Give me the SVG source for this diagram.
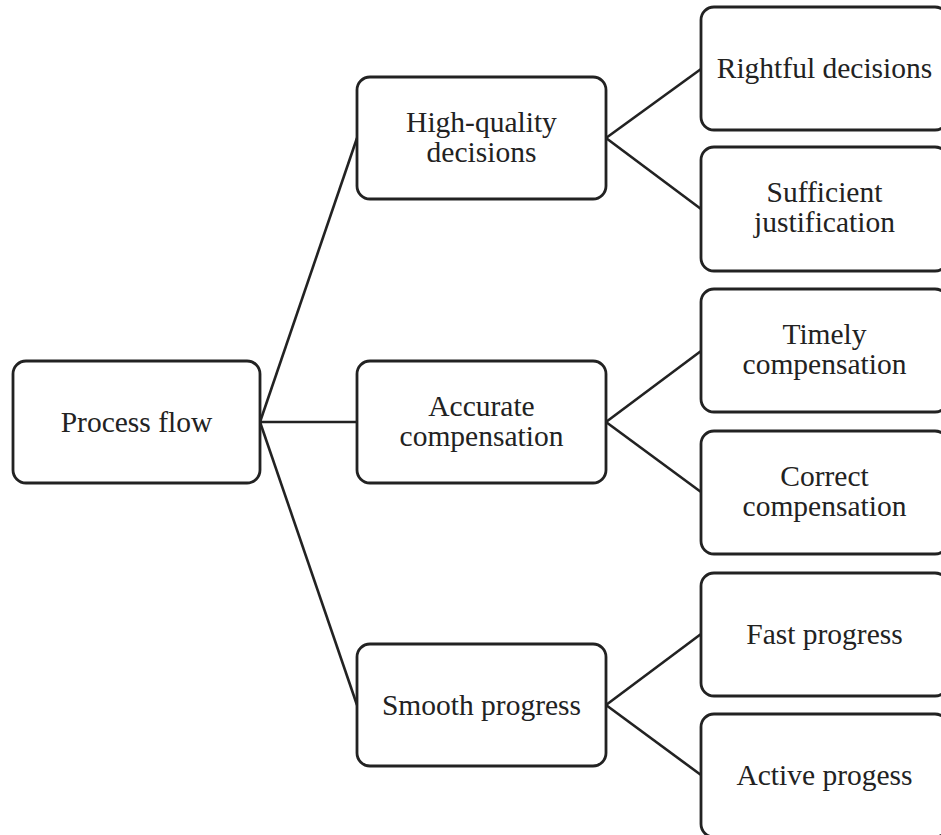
<svg xmlns="http://www.w3.org/2000/svg" width="941" height="835" viewBox="0 0 941 835">
  <style>
    .box { fill: #ffffff; stroke: #222222; stroke-width: 2.8; }
    .link { fill: none; stroke: #222222; stroke-width: 2.6; }
    text { font-family: "Liberation Serif", "Times New Roman", serif; font-size: 29.5px; fill: #222222; text-anchor: middle; }
  </style>
  <rect width="941" height="835" fill="#ffffff"/>

  <g id="connectors">
    <line class="link" x1="260" y1="422" x2="357" y2="138"/>
    <line class="link" x1="260" y1="422" x2="357" y2="422"/>
    <line class="link" x1="260" y1="422" x2="357" y2="705"/>
    <line class="link" x1="606" y1="138" x2="701" y2="69"/>
    <line class="link" x1="606" y1="138" x2="701" y2="209"/>
    <line class="link" x1="606" y1="422" x2="701" y2="351"/>
    <line class="link" x1="606" y1="422" x2="701" y2="492"/>
    <line class="link" x1="606" y1="705" x2="701" y2="634"/>
    <line class="link" x1="606" y1="705" x2="701" y2="775"/>
  </g>

  <g id="process-flow">
    <rect class="box" x="13" y="361" width="247" height="122" rx="13"/>
    <text x="136.5" y="432">Process flow</text>
  </g>

  <g id="high-quality-decisions">
    <rect class="box" x="357" y="77" width="249" height="122" rx="13"/>
    <text x="481.5" y="132">High-quality</text>
    <text x="481.5" y="162">decisions</text>
  </g>

  <g id="accurate-compensation">
    <rect class="box" x="357" y="361" width="249" height="122" rx="13"/>
    <text x="481.5" y="416">Accurate</text>
    <text x="481.5" y="446">compensation</text>
  </g>

  <g id="smooth-progress">
    <rect class="box" x="357" y="644" width="249" height="122" rx="13"/>
    <text x="481.5" y="715">Smooth progress</text>
  </g>

  <g id="rightful-decisions">
    <rect class="box" x="701" y="7" width="247" height="123" rx="13"/>
    <text x="824.5" y="78">Rightful decisions</text>
  </g>

  <g id="sufficient-justification">
    <rect class="box" x="701" y="147" width="247" height="124" rx="13"/>
    <text x="824.5" y="202">Sufficient</text>
    <text x="824.5" y="232">justification</text>
  </g>

  <g id="timely-compensation">
    <rect class="box" x="701" y="289" width="247" height="123" rx="13"/>
    <text x="824.5" y="344">Timely</text>
    <text x="824.5" y="374">compensation</text>
  </g>

  <g id="correct-compensation">
    <rect class="box" x="701" y="431" width="247" height="123" rx="13"/>
    <text x="824.5" y="486">Correct</text>
    <text x="824.5" y="516">compensation</text>
  </g>

  <g id="fast-progress">
    <rect class="box" x="701" y="573" width="247" height="123" rx="13"/>
    <text x="824.5" y="644">Fast progress</text>
  </g>

  <g id="active-progess">
    <rect class="box" x="701" y="714" width="247" height="123" rx="13"/>
    <text x="824.5" y="785">Active progess</text>
  </g>
</svg>
